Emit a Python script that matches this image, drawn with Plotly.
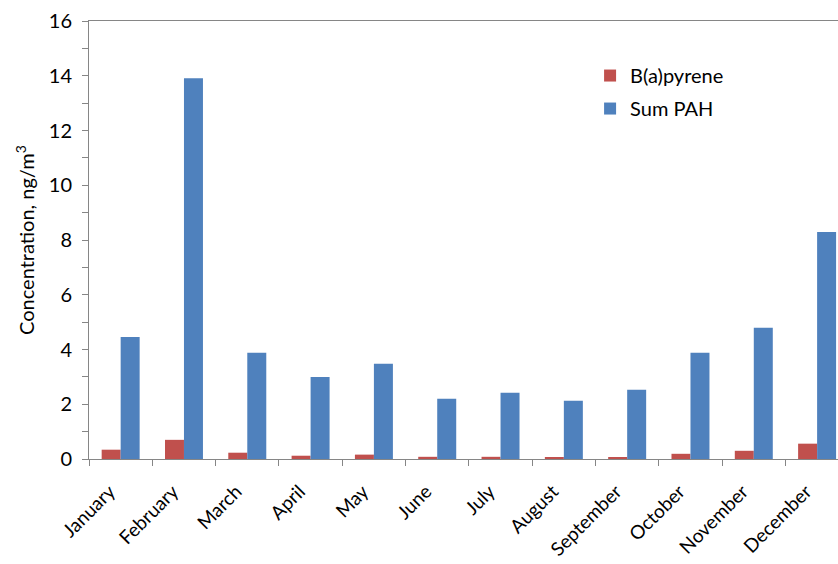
import plotly.graph_objects as go

months = ["January", "February", "March", "April", "May", "June",
          "July", "August", "September", "October", "November", "December"]
bap = [0.34, 0.70, 0.23, 0.12, 0.16, 0.08, 0.08, 0.05, 0.05, 0.19, 0.30, 0.56]
sum_pah = [4.46, 13.91, 3.88, 3.00, 3.48, 2.20, 2.42, 2.13, 2.53, 3.88, 4.79, 8.29]

FONT = "Lato"
SIZE = 20
AXIS_COLOR = "#868686"

fig = go.Figure()
fig.add_trace(go.Bar(x=months, y=bap, name="B(a)pyrene", legendgroup="a",
                     marker=dict(color="#C0504D", line=dict(width=0))))
fig.add_trace(go.Bar(x=months, y=sum_pah, name="Sum PAH", legendgroup="b",
                     marker=dict(color="#4F81BD", line=dict(width=0))))

fig.update_layout(
    width=838, height=564,
    margin=dict(l=89, r=0, t=21, b=105),
    plot_bgcolor="white", paper_bgcolor="white",
    barmode="group", bargap=0.4, bargroupgap=0,
    font=dict(family=FONT, size=SIZE, color="black"),
    showlegend=True,
    legend=dict(x=0.669, y=0.92, xanchor="left", yanchor="top",
                bgcolor="rgba(0,0,0,0)", font=dict(size=SIZE),
                tracegroupgap=4, itemwidth=30),
)

fig.update_xaxes(
    type="category", range=[-0.5, 11.33], automargin=False,
    showline=True, linecolor=AXIS_COLOR, linewidth=1, mirror=True,
    ticks="outside", tickson="boundaries", ticklen=6, tickcolor=AXIS_COLOR,
    tickangle=-45, ticklabelstandoff=13, ticklabelshift=-11,
    showgrid=False, zeroline=False,
    tickfont=dict(family=FONT, size=19, color="black"),
)
fig.update_yaxes(
    range=[0, 16], dtick=2, automargin=False,
    showline=True, linecolor=AXIS_COLOR, linewidth=1,
    ticks="outside", ticklen=6, tickcolor=AXIS_COLOR, ticklabelstandoff=6,
    minor=dict(ticks="outside", dtick=1, ticklen=6, tickcolor=AXIS_COLOR),
    showgrid=False, zeroline=False,
    tickfont=dict(family=FONT, size=SIZE, color="black"),
    title=dict(text="Concentration, ng/m<sup>3</sup>",
               font=dict(family=FONT, size=SIZE, color="black"), standoff=8),
)

fig.write_html("out.html")
